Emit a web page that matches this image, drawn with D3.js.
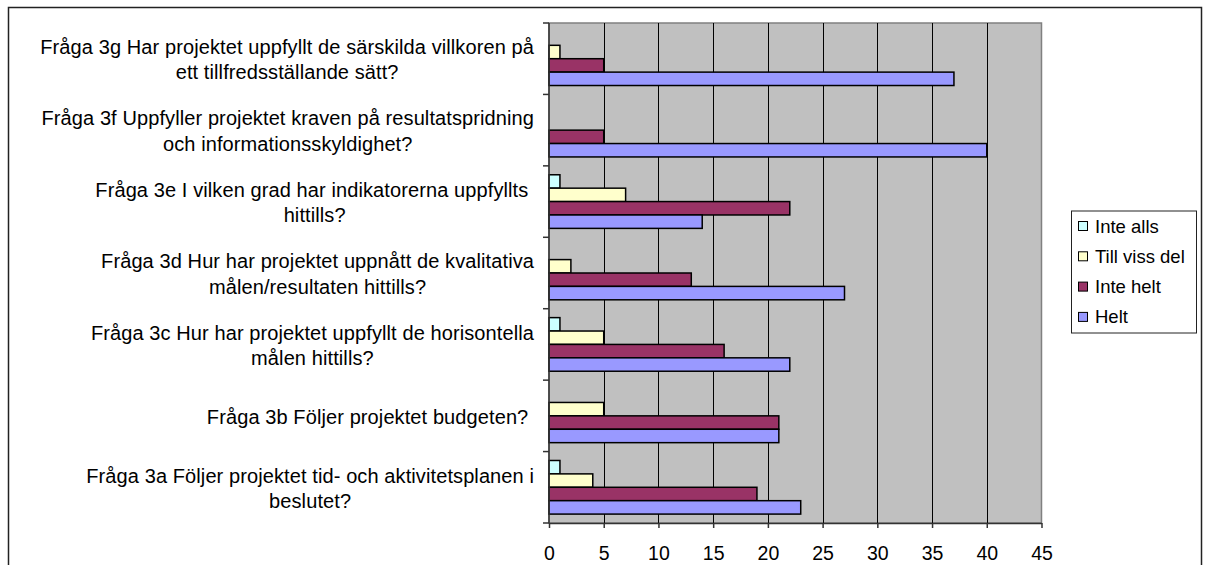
<!DOCTYPE html>
<html>
<head>
<meta charset="utf-8">
<script src="https://cdn.jsdelivr.net/npm/d3@7"></script>
<style>
  html, body { margin: 0; padding: 0; background: #ffffff; }
  svg { display: block; }
  text { font-family: "Liberation Sans", Arial, sans-serif; fill: #000; }
</style>
</head>
<body>
<svg id="chart" width="1205" height="565"></svg>
<script>
// ---- data ----
const categories = ["3g", "3f", "3e", "3d", "3c", "3b", "3a"];
const categoryLabels = [
  ["Fråga 3g Har projektet uppfyllt de särskilda villkoren på", "ett tillfredsställande sätt?"],
  ["Fråga 3f Uppfyller projektet kraven på resultatspridning", "och informationsskyldighet?"],
  ["Fråga 3e I vilken grad har indikatorerna uppfyllts ", "hittills?"],
  ["Fråga 3d Hur har projektet uppnått de kvalitativa", "målen/resultaten hittills?"],
  ["Fråga 3c Hur har projektet uppfyllt de horisontella", "målen hittills?"],
  ["Fråga 3b Följer projektet budgeten? "],
  ["Fråga 3a Följer projektet tid- och aktivitetsplanen i", "beslutet?"]
];
const seriesNames = ["Inte alls", "Till viss del", "Inte helt", "Helt"];
const inteAlls   = [0, 0, 1, 0, 1, 0, 1];
const tillVissDel = [1, 0, 7, 2, 5, 5, 4];
const inteHelt   = [5, 5, 22, 13, 16, 21, 19];
const helt       = [37, 40, 14, 27, 22, 21, 23];
const seriesValues = [inteAlls, tillVissDel, inteHelt, helt];
const seriesColors = ["#CCFFFF", "#FFFFCC", "#993366", "#9999FF"];
const xTicks = [0, 5, 10, 15, 20, 25, 30, 35, 40, 45];

// ---- layout ----
const svg = d3.select("#chart");
const plot = { left: 549, right: 1041.5, top: 23, bottom: 523 };

// outer chart border
svg.append("rect")
  .attr("x", 8.5).attr("y", 7.5)
  .attr("width", 1193).attr("height", 600)
  .attr("fill", "#fff").attr("stroke", "#222").attr("stroke-width", 1.5);

const x = d3.scaleLinear().domain([0, 45]).range([plot.left, plot.right]);
const y = d3.scaleBand().domain(categories).range([plot.top, plot.bottom]).padding(0);
const yInner = d3.scaleBand().domain(seriesNames).range([0, y.bandwidth()])
  .paddingInner(0).paddingOuter(0.665);

// plot background
svg.append("rect")
  .attr("x", plot.left).attr("y", plot.top)
  .attr("width", plot.right - plot.left).attr("height", plot.bottom - plot.top)
  .attr("fill", "#C0C0C0").attr("stroke", "#808080").attr("stroke-width", 1.5);

// vertical gridlines
svg.append("g").selectAll("line")
  .data(xTicks.filter(t => t > 0 && t < 45))
  .join("line")
  .attr("x1", d => Math.round(x(d)) + 0.5).attr("x2", d => Math.round(x(d)) + 0.5)
  .attr("y1", plot.top).attr("y2", plot.bottom)
  .attr("stroke", "#000").attr("stroke-width", 1);

// bars
const barData = [];
categories.forEach((c, i) => {
  seriesNames.forEach((s, j) => {
    barData.push({ cat: c, series: s, value: seriesValues[j][i], color: seriesColors[j] });
  });
});
svg.append("g").selectAll("rect")
  .data(barData.filter(d => d.value > 0))
  .join("rect")
  .attr("x", x(0))
  .attr("y", d => y(d.cat) + yInner(d.series))
  .attr("width", d => x(d.value) - x(0))
  .attr("height", yInner.bandwidth())
  .attr("fill", d => d.color)
  .attr("stroke", "#000").attr("stroke-width", 1.5);

// x axis
const xAxis = d3.axisBottom(x).tickValues(xTicks).tickSize(5).tickPadding(18).tickSizeOuter(0);
const gx = svg.append("g").attr("transform", `translate(0,${plot.bottom})`).call(xAxis);
gx.select(".domain").attr("stroke", "#333").attr("stroke-width", 1.5);
gx.selectAll(".tick line").attr("stroke", "#333").attr("stroke-width", 1.5);
gx.selectAll(".tick text")
  .style("font-family", "'Liberation Sans', Arial, sans-serif")
  .style("font-size", "19.5px").attr("fill", "#000");

// y axis line and ticks at category boundaries
const yBounds = categories.map(c => y(c)).concat([plot.bottom]);
svg.append("line")
  .attr("x1", plot.left).attr("x2", plot.left)
  .attr("y1", plot.top).attr("y2", plot.bottom)
  .attr("stroke", "#333").attr("stroke-width", 1.5);
svg.append("g").selectAll("line")
  .data(yBounds)
  .join("line")
  .attr("x1", plot.left - 6).attr("x2", plot.left)
  .attr("y1", d => d).attr("y2", d => d)
  .attr("stroke", "#333").attr("stroke-width", 1.5);

// category labels (block right aligned, lines centered)
const labelRight = 534;
const lineGap = 25.5;
const labelG = svg.append("g");
categoryLabels.forEach((lines, i) => {
  const cy = y(categories[i]) + y.bandwidth() / 2;
  const g = labelG.append("g");
  const texts = lines.map((ln, k) => g.append("text")
    .style("white-space", "pre")
    .style("font-size", "20px")
    .style("letter-spacing", "0.1px")
    .attr("text-anchor", "middle")
    .attr("dominant-baseline", "central")
    .attr("y", cy + 1 + (k - (lines.length - 1) / 2) * lineGap)
    .text(ln));
  const maxW = d3.max(texts, t => t.node().getComputedTextLength());
  texts.forEach(t => t.attr("x", labelRight - maxW / 2));
});

// legend
const legend = svg.append("g");
legend.append("rect")
  .attr("x", 1071.5).attr("y", 211)
  .attr("width", 125).attr("height", 122)
  .attr("fill", "#fff").attr("stroke", "#222").attr("stroke-width", 1);
seriesNames.forEach((s, j) => {
  const cy = 226 + j * 30.3;
  legend.append("rect")
    .attr("x", 1078.5).attr("y", cy - 4.5)
    .attr("width", 9).attr("height", 9)
    .attr("fill", seriesColors[j]).attr("stroke", "#000").attr("stroke-width", 1);
  legend.append("text")
    .attr("x", 1095).attr("y", cy)
    .attr("dominant-baseline", "central")
    .style("font-size", "18.5px")
    .text(s);
});
</script>
</body>
</html>
